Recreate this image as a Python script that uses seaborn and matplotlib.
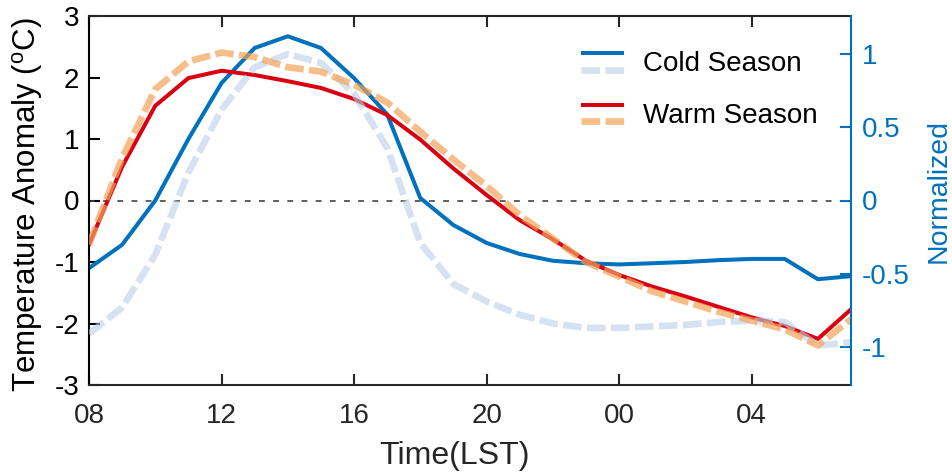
import numpy as np
import pandas as pd
import matplotlib
matplotlib.use("Agg")
import matplotlib.pyplot as plt
import seaborn as sns
from matplotlib.lines import Line2D
from matplotlib.legend_handler import HandlerBase

# ---------------- data ----------------
hours = list(range(8, 32))  # 08 LST .. 07 LST next day
cold_temp = [-1.10, -0.72, 0.00, 1.00, 1.91, 2.48, 2.67, 2.48, 1.99, 1.40, 0.04, -0.40,
             -0.69, -0.87, -0.98, -1.02, -1.04, -1.02, -1.00, -0.97, -0.95, -0.95, -1.28, -1.23]
warm_temp = [-0.72, 0.55, 1.54, 1.99, 2.11, 2.04, 1.94, 1.83, 1.65, 1.39, 0.99, 0.52,
             0.09, -0.32, -0.63, -0.98, -1.21, -1.40, -1.56, -1.73, -1.90, -2.04, -2.25, -1.77]
cold_norm = [-0.91, -0.73, -0.37, 0.19, 0.62, 0.91, 1.00, 0.94, 0.73, 0.36, -0.29, -0.57,
             -0.69, -0.78, -0.84, -0.87, -0.87, -0.86, -0.85, -0.83, -0.82, -0.83, -0.99, -0.97]
warm_norm = [-0.30, 0.29, 0.76, 0.95, 1.01, 0.98, 0.91, 0.88, 0.79, 0.67, 0.47, 0.28,
             0.10, -0.10, -0.26, -0.42, -0.52, -0.62, -0.69, -0.76, -0.82, -0.88, -0.99, -0.81]
xtick_vals = [8, 12, 16, 20, 24, 28]
xtick_labels = ["08", "12", "16", "20", "00", "04"]
left_ticks = [-3, -2, -1, 0, 1, 2, 3]
right_ticks = [-1, -0.5, 0, 0.5, 1]
right_tick_labels = ["-1", "-0.5", "0", "0.5", "1"]
labels = ["Cold Season", "Warm Season"]

df = pd.DataFrame({"hour": hours, "cold_temp": cold_temp, "warm_temp": warm_temp,
                   "cold_norm": cold_norm, "warm_norm": warm_norm})

# ---------------- style ----------------
sns.set_theme(style="white")
plt.rcParams["font.family"] = ["Liberation Sans", "DejaVu Sans"]
plt.rcParams["axes.unicode_minus"] = False
plt.rcParams["mathtext.default"] = "regular"

BLUE = "#0072BD"
RED = "#D90012"
LBLUE = (0.733, 0.817, 0.917)
ORANGE = (0.957, 0.64, 0.35)
AXC = "#262626"

fig = plt.figure(figsize=(9.52, 4.75), dpi=100)
ax = fig.add_axes([89 / 952, 1 - 385 / 475, 762 / 952, 369 / 475])
ax2 = ax.twinx()

sns.lineplot(data=df, x="hour", y="cold_temp", ax=ax, color=BLUE, lw=2.9, legend=False)
sns.lineplot(data=df, x="hour", y="warm_temp", ax=ax, color=RED, lw=2.9, legend=False)
ax.axhline(0, color="#444444", lw=1.2, ls=(0, (3.5, 5)), zorder=1)

dash = (0, (2.8, 0.8))
sns.lineplot(data=df, x="hour", y="cold_norm", ax=ax2, color=LBLUE, lw=4.8, alpha=0.6,
             legend=False)
sns.lineplot(data=df, x="hour", y="warm_norm", ax=ax2, color=ORANGE, lw=4.8, alpha=0.7,
             legend=False)
for ln in ax2.get_lines():
    ln.set_linestyle(dash)
    ln.set_dash_capstyle("butt")

ax.set_xlim(8, 31)
ax.set_ylim(-3, 3)
ax2.set_ylim(-1.26, 1.26)

ax.set_xticks(xtick_vals)
ax.set_xticklabels(xtick_labels)
ax.set_yticks(left_ticks)
ax.set_yticklabels([str(v) for v in left_ticks])
ax2.set_yticks(right_ticks)
ax2.set_yticklabels(right_tick_labels)

ax.tick_params(axis="x", direction="in", length=8, width=1.5, colors=AXC, labelsize=20,
               top=True, bottom=True, pad=13)
ax.tick_params(axis="y", direction="in", length=8, width=1.5, colors="black", labelsize=20,
               left=True, right=False, pad=7)
ax2.tick_params(axis="y", direction="in", length=8, width=1.5, colors=BLUE, labelsize=20,
                right=True, left=False, pad=8)

for s in ["top", "bottom"]:
    ax.spines[s].set_color(AXC)
    ax.spines[s].set_linewidth(1.5)
ax.spines["left"].set_color("black")
ax.spines["left"].set_linewidth(1.5)
ax.spines["right"].set_visible(False)
for s in ["top", "bottom", "left"]:
    ax2.spines[s].set_visible(False)
ax2.spines["right"].set_color(BLUE)
ax2.spines["right"].set_linewidth(1.5)

ax.set_xlabel("Time(LST)", fontsize=23, color=AXC)
ax.xaxis.set_label_coords(0.48, -0.153)
ax.set_ylabel("Temperature Anomaly ($^{o}$C)", fontsize=22.5, color="black")
ax.yaxis.set_label_coords(-0.058, 0.49)
ax2.set_ylabel("Normalized", fontsize=20.5, color=BLUE)
ax2.yaxis.set_label_coords(1.098, 0.525)


# ---------------- legend: two stacked lines per entry ----------------
class TwoLineHandler(HandlerBase):
    def create_artists(self, legend, orig_handle, xdescent, ydescent, width, height,
                       fontsize, trans):
        top, bot = orig_handle
        c = (height - ydescent) / 2
        off = 6.1
        xs = [-xdescent, -xdescent + width]
        a = Line2D(xs, [c + off, c + off], color=top.get_color(), lw=top.get_linewidth(),
                   alpha=top.get_alpha(), solid_capstyle="butt")
        b = Line2D(xs, [c - off, c - off], color=bot.get_color(), lw=bot.get_linewidth(),
                   alpha=bot.get_alpha(), linestyle=(0, (2.8, 0.8)), dash_capstyle="butt")
        a.set_transform(trans)
        b.set_transform(trans)
        return [a, b]


l_cold = ax.get_lines()[0]
l_warm = ax.get_lines()[1]
n_cold, n_warm = ax2.get_lines()[0], ax2.get_lines()[1]
leg = ax2.legend([(l_cold, n_cold), (l_warm, n_warm)], labels,
                 handler_map={tuple: TwoLineHandler()}, loc="center left",
                 bbox_to_anchor=(0.6457, 0.80), frameon=False, fontsize=20,
                 handlelength=1.55, handletextpad=0.68, labelspacing=0.93, borderpad=0,
                 borderaxespad=0)
for t in leg.get_texts():
    t.set_color("black")

fig.savefig("out.png", dpi=100)
